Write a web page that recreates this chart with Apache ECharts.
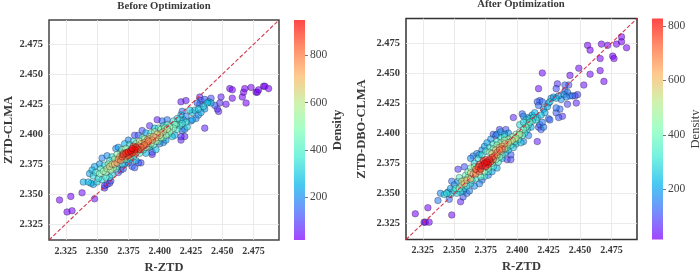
<!DOCTYPE html>
<html><head><meta charset="utf-8">
<script src="https://cdn.jsdelivr.net/npm/echarts@6/dist/echarts.min.js"></script>
<style>html,body{margin:0;padding:0;background:#fff}#c{width:699px;height:271px}</style></head>
<body><div id="c"></div>
<script>
const tickValues = [2.325, 2.35, 2.375, 2.4, 2.425, 2.45, 2.475];
const axisRange = [2.3116, 2.4953];
const beforeDensityRange = [20, 948];
const afterDensityRange = [15, 828];
const densityTicks = [200, 400, 600, 800];
const diagonal = [[2.3116, 2.3116], [2.4953, 2.4953]];
// [R-ZTD, modelled ZTD, density]
const beforePoints = [
[2.320,2.345,25],[2.329,2.348,30],[2.326,2.335,25],[2.330,2.336,30],[2.338,2.351,40],[2.348,2.346,45],
[2.456,2.438,30],[2.458,2.437,30],[2.458,2.430,35],[2.449,2.431,60],[2.453,2.425,50],[2.466,2.431,25],[2.467,2.435,25],[2.468,2.438,25],[2.469,2.426,25],[2.473,2.439,22],[2.477,2.435,22],[2.478,2.435,22],[2.479,2.437,22],[2.483,2.440,22],[2.484,2.440,22],[2.487,2.438,22],
[2.398,2.412,60],[2.392,2.407,85],[2.394,2.383,70],[2.417,2.395,70],[2.420,2.398,60],[2.417,2.398,85],[2.436,2.405,70],[2.417,2.427,50],[2.421,2.428,50],[2.432,2.431,60],[2.447,2.419,70],[2.446,2.421,80],[2.444,2.424,130],
[2.356,2.355,70],[2.356,2.357,90],[2.358,2.358,100],[2.360,2.359,110],[2.361,2.361,120],
[2.386,2.403,120],[2.380,2.399,120],[2.383,2.399,140],[2.367,2.368,140],[2.369,2.370,130],[2.371,2.371,150],[2.378,2.373,130],[2.380,2.372,140],[2.383,2.376,130],[2.385,2.376,120],[2.394,2.385,130],[2.402,2.411,160],[2.406,2.412,170],[2.418,2.419,170],[2.433,2.428,130],[2.436,2.429,130],[2.441,2.430,120],[2.432,2.425,140],[2.430,2.426,150],[2.448,2.426,80],
[2.339,2.360,240],[2.343,2.360,270],[2.345,2.359,250],[2.347,2.358,240],[2.350,2.360,300],[2.344,2.367,230],[2.346,2.370,270],[2.348,2.373,230],[2.352,2.375,220],[2.354,2.380,190],[2.358,2.382,210],[2.365,2.388,200],[2.367,2.389,220],[2.372,2.392,260],[2.375,2.395,190],[2.389,2.401,230],[2.396,2.405,280],[2.403,2.407,300],[2.366,2.373,220],[2.372,2.375,200],[2.375,2.376,210],[2.377,2.379,230],[2.381,2.378,240],[2.389,2.384,260],[2.392,2.389,260],[2.397,2.387,280],[2.400,2.392,210],[2.403,2.393,200],[2.405,2.395,230],[2.410,2.398,290],[2.412,2.399,280],[2.418,2.403,180],[2.420,2.404,190],[2.422,2.406,300],[2.425,2.411,210],[2.426,2.412,230],[2.429,2.413,190],[2.431,2.416,210],[2.433,2.418,240],[2.436,2.421,220],[2.428,2.420,280],[2.426,2.418,270],[2.424,2.420,300],[2.431,2.421,290],[2.435,2.423,300],[2.438,2.426,280],[2.441,2.426,260],[2.439,2.427,240],[2.421,2.415,200],[2.419,2.412,220],[2.417,2.416,260],[2.416,2.412,310],
[2.347,2.365,320],[2.349,2.368,340],[2.351,2.363,350],[2.354,2.362,330],[2.353,2.371,380],[2.356,2.374,340],[2.357,2.364,380],[2.360,2.364,330],[2.362,2.366,320],[2.360,2.378,350],[2.362,2.381,340],[2.369,2.385,340],[2.376,2.391,350],[2.379,2.394,340],[2.386,2.397,380],[2.393,2.401,370],[2.399,2.405,390],[2.406,2.408,400],[2.411,2.411,360],[2.414,2.413,340],[2.370,2.375,340],[2.374,2.379,360],[2.379,2.381,370],[2.384,2.384,390],[2.387,2.387,380],[2.391,2.390,400],[2.395,2.391,370],[2.399,2.394,360],[2.403,2.397,390],[2.407,2.400,380],[2.414,2.404,350],[2.416,2.407,330],[2.418,2.409,340],[2.421,2.410,320],
[2.352,2.367,480],[2.355,2.369,520],[2.357,2.368,500],[2.358,2.371,560],[2.359,2.375,510],[2.361,2.370,560],[2.363,2.372,540],[2.365,2.371,470],[2.364,2.379,560],[2.366,2.383,520],[2.370,2.387,490],[2.373,2.388,510],[2.381,2.392,540],[2.384,2.394,560],[2.388,2.396,580],[2.392,2.398,580],[2.396,2.402,560],[2.401,2.404,520],[2.404,2.405,530],[2.408,2.406,480],[2.412,2.408,450],[2.372,2.379,560],[2.376,2.381,590],[2.381,2.384,640],[2.385,2.387,660],[2.389,2.389,640],[2.393,2.392,620],[2.397,2.394,600],[2.401,2.397,570],[2.405,2.399,530],[2.408,2.402,500],[2.411,2.405,470],[2.413,2.408,440],
[2.360,2.373,650],[2.362,2.375,660],[2.364,2.375,700],[2.366,2.376,730],[2.367,2.379,770],[2.368,2.381,720],[2.369,2.378,780],[2.371,2.384,770],[2.374,2.385,800],[2.383,2.390,740],[2.385,2.392,710],[2.388,2.393,730],[2.390,2.395,720],[2.392,2.396,700],[2.395,2.398,710],[2.398,2.400,670],[2.401,2.401,650],[2.373,2.381,810],[2.376,2.383,840],[2.384,2.387,790],[2.387,2.390,800],[2.390,2.392,780],[2.394,2.395,740],[2.397,2.397,700],[2.400,2.399,660],[2.403,2.402,620],[2.406,2.404,590],
[2.370,2.381,860],[2.371,2.383,880],[2.373,2.384,900],[2.375,2.385,925],[2.377,2.386,945],[2.378,2.388,945],[2.380,2.387,935],[2.381,2.389,910],[2.379,2.390,870],[2.382,2.388,860],[2.375,2.382,870],[2.378,2.384,890],[2.380,2.385,870],[2.383,2.387,830],[2.385,2.389,820],[2.388,2.391,800],[2.391,2.394,780]
];
const afterPoints = [
[2.319,2.333,20],[2.329,2.338,22],[2.326,2.326,22],[2.327,2.326,22],[2.330,2.326,22],[2.348,2.332,30],[2.337,2.344,150],[2.339,2.350,170],[2.346,2.345,130],[2.355,2.343,60],[2.357,2.347,110],[2.353,2.370,80],[2.358,2.372,110],[2.348,2.360,140],[2.397,2.413,60],[2.416,2.393,50],[2.420,2.450,25],[2.417,2.437,40],[2.456,2.473,18],[2.458,2.469,18],[2.467,2.474,16],[2.472,2.473,16],[2.479,2.474,16],[2.483,2.480,16],[2.483,2.476,16],[2.487,2.471,16],[2.476,2.464,18],[2.477,2.462,18],[2.466,2.462,20],[2.449,2.454,30],[2.442,2.448,35],[2.458,2.449,30],[2.466,2.452,25],[2.469,2.443,25],[2.453,2.440,40],[2.447,2.425,60],[2.440,2.424,90],[2.436,2.414,70],[2.448,2.432,90],[2.446,2.431,100],[2.432,2.441,70],[2.431,2.437,100],[2.438,2.440,120],[2.441,2.440,110],[2.438,2.435,140],[2.440,2.434,150],
[2.391,2.403,100],[2.386,2.403,90],[2.381,2.399,110],[2.383,2.398,120],[2.392,2.378,80],[2.395,2.378,90],[2.395,2.382,110],[2.417,2.423,130],[2.418,2.427,110],[2.416,2.426,120],[2.420,2.426,140],[2.404,2.416,130],[2.405,2.414,160],[2.425,2.412,130],[2.426,2.411,130],[2.431,2.417,120],[2.433,2.413,110],[2.434,2.420,130],[2.431,2.421,140],[2.417,2.405,110],[2.419,2.403,120],[2.418,2.407,130],[2.421,2.405,150],[2.420,2.409,150],[2.409,2.398,160],[2.405,2.393,170],[2.366,2.356,170],[2.372,2.361,150],[2.370,2.358,170],[2.377,2.365,160],[2.360,2.350,150],[2.362,2.352,160],[2.357,2.352,170],[2.345,2.351,180],[2.347,2.354,190],[2.350,2.357,180],[2.353,2.360,190],
[2.363,2.379,170],[2.365,2.381,150],[2.368,2.383,170],[2.370,2.382,190],[2.372,2.386,170],[2.374,2.389,190],[2.376,2.392,200],[2.379,2.395,180],[2.384,2.399,170],[2.387,2.401,190],[2.390,2.399,200],[2.393,2.400,190],[2.380,2.368,200],[2.384,2.371,220],[2.388,2.379,230],[2.391,2.384,220],[2.393,2.386,250],[2.397,2.388,250],[2.399,2.391,240],[2.403,2.392,260],[2.408,2.403,240],[2.411,2.405,220],[2.409,2.413,210],[2.412,2.415,220],[2.414,2.417,230],[2.416,2.413,230],[2.419,2.415,240],[2.421,2.420,200],[2.424,2.422,210],[2.425,2.425,190],[2.427,2.429,190],[2.429,2.430,200],[2.431,2.429,230],[2.433,2.431,200],[2.435,2.428,180],[2.437,2.432,170],[2.439,2.430,170],[2.442,2.431,140],[2.444,2.431,130],[2.422,2.417,220],
[2.342,2.349,260],[2.344,2.350,290],[2.347,2.349,270],[2.350,2.352,300],[2.352,2.350,280],[2.355,2.351,270],[2.358,2.354,260],[2.360,2.356,280],[2.363,2.358,270],[2.351,2.354,320],[2.364,2.361,340],[2.367,2.362,310],[2.366,2.375,270],[2.369,2.379,290],[2.372,2.382,300],[2.375,2.385,310],[2.378,2.388,300],[2.381,2.391,320],[2.384,2.393,330],[2.387,2.396,300],[2.390,2.397,320],[2.374,2.364,300],[2.377,2.368,310],[2.381,2.372,300],[2.385,2.376,330],[2.388,2.382,340],[2.392,2.388,320],[2.395,2.390,330],[2.398,2.393,340],[2.401,2.395,330],[2.404,2.398,320],[2.406,2.400,310],[2.402,2.407,290],[2.405,2.409,290],[2.407,2.411,270],[2.410,2.412,280],[2.413,2.413,290],[2.415,2.411,290],[2.412,2.410,300],[2.426,2.426,270],
[2.354,2.354,420],[2.356,2.357,460],[2.358,2.361,440],[2.361,2.363,430],[2.354,2.363,380],[2.359,2.365,390],[2.361,2.368,410],[2.363,2.371,420],[2.366,2.372,470],[2.371,2.364,400],[2.374,2.368,430],[2.377,2.371,450],[2.380,2.375,430],[2.383,2.378,460],[2.386,2.380,420],[2.378,2.384,440],[2.381,2.387,430],[2.384,2.390,460],[2.387,2.392,450],[2.390,2.394,470],[2.393,2.395,450],[2.396,2.397,440],[2.399,2.399,430],[2.402,2.401,420],[2.405,2.403,400],[2.407,2.405,380],[2.392,2.390,470],[2.395,2.393,480],[2.398,2.395,460],[2.401,2.398,450],[2.409,2.407,340],[2.410,2.409,360],
[2.356,2.360,560],[2.358,2.358,590],[2.360,2.361,600],[2.363,2.362,620],[2.365,2.366,650],[2.363,2.367,560],[2.368,2.369,660],[2.367,2.366,670],[2.370,2.368,690],[2.380,2.383,610],[2.383,2.386,600],[2.386,2.388,620],[2.388,2.389,640],[2.390,2.391,610],[2.393,2.392,570],[2.396,2.394,550],[2.399,2.396,520],[2.402,2.399,500],[2.384,2.382,590],[2.387,2.385,610],[2.390,2.387,580],
[2.367,2.370,730],[2.369,2.372,770],[2.371,2.370,790],[2.372,2.373,810],[2.374,2.375,826],[2.375,2.372,826],[2.376,2.376,826],[2.377,2.374,815],[2.378,2.378,800],[2.379,2.376,790],[2.380,2.380,750],[2.381,2.378,720],[2.382,2.381,700],[2.384,2.384,680],[2.386,2.386,690],[2.388,2.387,670],[2.370,2.374,760],[2.373,2.377,780],[2.375,2.378,780]
];

const rainbow = [[128,0,255],[64,98,250],[0,180,236],[64,236,212],[128,255,180],[191,236,142],[255,180,98],[255,98,50],[255,0,0]].map(c=>`rgba(${c[0]},${c[1]},${c[2]},0.72)`);
const serif = '"Liberation Serif","Times New Roman",serif';
const ink = '#3a3a3a';
const sorted = a => a.slice().sort((p,q)=>p[2]-q[2]);
const barGradient = {type:'linear',x:0,y:1,x2:0,y2:0,colorStops:rainbow.map((color,i)=>({offset:i/(rainbow.length-1),color}))};

function plotAxis(gridIndex, name, isY, nameGap){
  return {
    type:'value', gridIndex, min:axisRange[0], max:axisRange[1],
    name, nameLocation:'middle', nameGap,
    nameTextStyle:{fontFamily:serif,fontWeight:'bold',fontSize:12.5,color:ink},
    axisLine:{show:false},
    axisTick:{show:false,customValues:tickValues},
    axisLabel:{customValues:tickValues,formatter:v=>v.toFixed(3),fontFamily:serif,fontWeight:'bold',fontSize:isY?10.5:10,color:ink,margin:isY?6:6,hideOverlap:false},
    splitLine:{show:true,lineStyle:{color:'#e6e6e6',width:0.8}}
  };
}
function cbAxis(gridIndex, range, name, weight, nameGap){
  return {
    type:'value', gridIndex, position:'right', min:range[0], max:range[1],
    name, nameLocation:'middle', nameGap, nameRotate:90,
    nameTextStyle:{fontFamily:serif,fontWeight:weight,fontSize:12.5,color:ink},
    axisLine:{show:false}, splitLine:{show:false},
    axisTick:{show:true,length:3,customValues:densityTicks,lineStyle:{color:'#555',width:0.8}},
    axisLabel:{customValues:densityTicks,fontFamily:serif,fontSize:11.5,color:'#444',margin:5}
  };
}
function scatter(points, xi){
  return {type:'scatter',xAxisIndex:xi,yAxisIndex:xi,data:sorted(points),symbolSize:6.6,
    encode:{x:0,y:1},
    itemStyle:{borderColor:'rgba(20,20,40,0.7)',borderWidth:0.6},z:3};
}
function diag(xi){
  return {type:'line',xAxisIndex:xi,yAxisIndex:xi,data:diagonal,showSymbol:false,silent:true,
    lineStyle:{color:'rgba(205,35,60,0.9)',width:1.1,type:[4,2]},z:4};
}
function colorBar(xi, range){
  return {type:'bar',xAxisIndex:xi,yAxisIndex:xi,data:[range[1]],barWidth:'100%',silent:true,itemStyle:{color:barGradient}};
}
const option = {
  backgroundColor:'#fff', animation:false,
  title:[
    {text:'Before Optimization',left:164,top:1,padding:0,textAlign:'center',textStyle:{fontFamily:serif,fontWeight:'bold',fontSize:10.7,color:ink}},
    {text:'After Optimization',left:521,top:-1,padding:0,textAlign:'center',textStyle:{fontFamily:serif,fontWeight:'bold',fontSize:10.7,color:ink}}
  ],
  grid:[
    {left:49,top:20,width:230,height:220,show:true,borderColor:'#444',borderWidth:1.5,backgroundColor:'#fff',outerBoundsMode:'none'},
    {left:406,top:18.5,width:231,height:221,show:true,borderColor:'#333',borderWidth:1.5,backgroundColor:'#fff',outerBoundsMode:'none'},
    {left:294,top:20,width:11,height:220,show:false,outerBoundsMode:'none'},
    {left:652,top:18.5,width:11,height:221,show:false,outerBoundsMode:'none'}
  ],
  xAxis:[
    plotAxis(0,'R-ZTD',false,20.5), plotAxis(1,'R-ZTD',false,20.5),
    {type:'category',gridIndex:2,show:false,data:['density']},{type:'category',gridIndex:3,show:false,data:['density']}
  ],
  yAxis:[
    plotAxis(0,'ZTD-CLMA',true,26), plotAxis(1,'ZTD-DBO-CLMA',true,37.5),
    cbAxis(2,beforeDensityRange,'Density','bold',23.5),
    cbAxis(3,afterDensityRange,'Density','normal',24.5)
  ],
  visualMap:[
    {type:'continuous',show:false,seriesIndex:0,dimension:2,min:beforeDensityRange[0],max:beforeDensityRange[1],inRange:{color:rainbow}},
    {type:'continuous',show:false,seriesIndex:2,dimension:2,min:afterDensityRange[0],max:afterDensityRange[1],inRange:{color:rainbow}}
  ],
  series:[
    scatter(beforePoints,0), diag(0), scatter(afterPoints,1), diag(1),
    colorBar(2,beforeDensityRange), colorBar(3,afterDensityRange)
  ]
};
echarts.init(document.getElementById('c'),null,{renderer:'canvas'}).setOption(option);
</script></body></html>
